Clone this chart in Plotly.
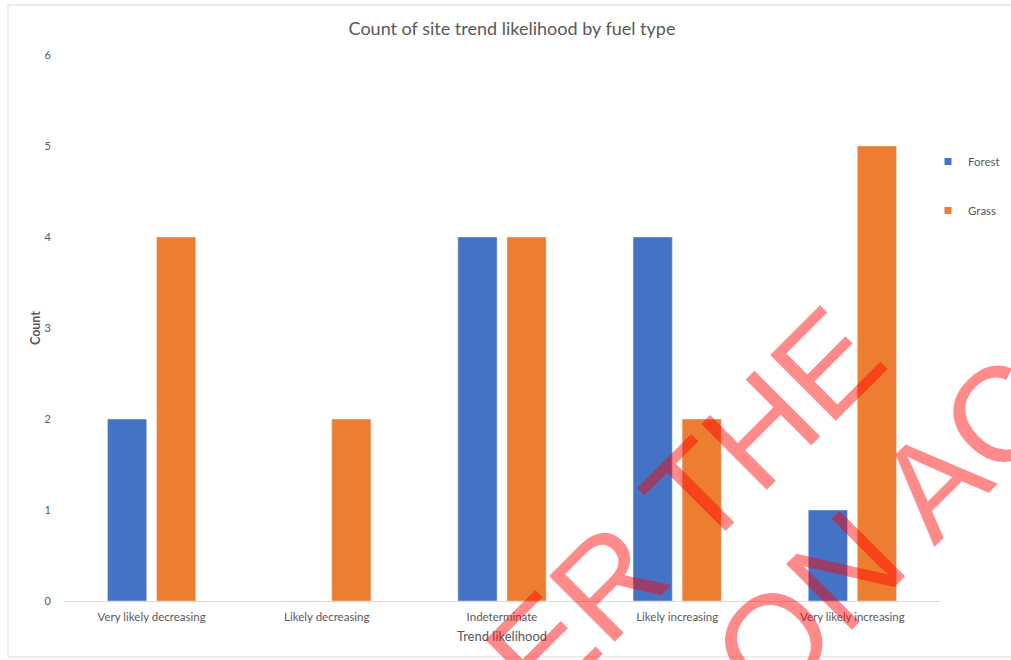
import plotly.graph_objects as go

categories = ["Very likely decreasing", "Likely decreasing", "Indeterminate",
              "Likely increasing", "Very likely increasing"]
forest = [2, 0, 4, 4, 1]
grass = [4, 2, 4, 2, 5]
series_names = ["Forest", "Grass"]
y_ticks = [0, 1, 2, 3, 4, 5, 6]

BLUE = "#4472C4"
ORANGE = "#ED7D31"
TXT = "#595959"
FONT = "Lato"

W, H = 1011, 660
L, R, T, B = 64, 71, 55, 59
PW, PH = W - L - R, H - T - B


def px(x):
    return (x - L) / PW


def py(y):
    return (H - B - y) / PH


fig = go.Figure()
fig.add_bar(x=categories, y=forest, name=series_names[0], marker_color=BLUE,
            showlegend=False)
fig.add_bar(x=categories, y=grass, name=series_names[1], marker_color=ORANGE,
            showlegend=False)
for nm, col in zip(series_names, [BLUE, ORANGE]):
    fig.add_scatter(x=[None], y=[None], mode="markers", name=nm, legendgroup=nm,
                    marker=dict(symbol="square", size=7, color=col))

fig.update_layout(
    width=W, height=H, autosize=False,
    margin=dict(l=L, r=R, t=T, b=B, autoexpand=False),
    paper_bgcolor="white", plot_bgcolor="white",
    barmode="group", bargap=0.44, bargroupgap=0.2,
    font=dict(family=FONT, color=TXT, size=11.5),
    title=dict(text="Count of site trend likelihood by fuel type",
               x=512 / W, xref="container", xanchor="center",
               y=1 - 29 / H, yref="container", yanchor="middle",
               font=dict(size=18, color=TXT, family=FONT)),
    legend=dict(x=px(928), y=py(147), xanchor="left", yanchor="top",
                traceorder="grouped", tracegroupgap=30,
                font=dict(size=11.5, color=TXT), bgcolor="rgba(0,0,0,0)"),
    showlegend=True,
)
fig.update_xaxes(showline=True, linecolor="#D9D9D9", linewidth=1,
                 showgrid=False, zeroline=False,
                 ticks="outside", ticklen=5, tickcolor="rgba(0,0,0,0)",
                 tickfont=dict(size=11.5, color=TXT, family=FONT),
                 title=dict(text="Trend likelihood", standoff=10,
                            font=dict(size=13, color=TXT, family=FONT)))
fig.update_yaxes(range=[0, 6], tickvals=y_ticks, showgrid=False,
                 zeroline=False, showline=False,
                 ticks="outside", ticklen=10, tickcolor="rgba(0,0,0,0)",
                 tickfont=dict(size=11, color=TXT, family=FONT),
                 title=dict(text="Count", standoff=1,
                            font=dict(size=12.5, color=TXT, family=FONT, weight="bold")))

# chart border
fig.add_shape(type="rect", xref="paper", yref="paper",
              x0=px(8), x1=px(1030), y0=py(657), y1=py(5),
              line=dict(color="#D9D9D9", width=1), layer="below")

# watermark (partially visible)
wm = "rgba(255,0,0,0.46)"
fig.add_annotation(text="ER THE", xref="paper", yref="paper",
                   x=px(684), y=py(506), xanchor="center", yanchor="middle",
                   textangle=-45, showarrow=False,
                   font=dict(family="Liberation Sans", size=135, color=wm))
fig.add_annotation(text="ON AC", xref="paper", yref="paper",
                   x=px(885), y=py(530), xanchor="center", yanchor="middle",
                   textangle=-45, showarrow=False,
                   font=dict(family="Liberation Sans", size=135, color=wm))

fig.write_html("out.html")
